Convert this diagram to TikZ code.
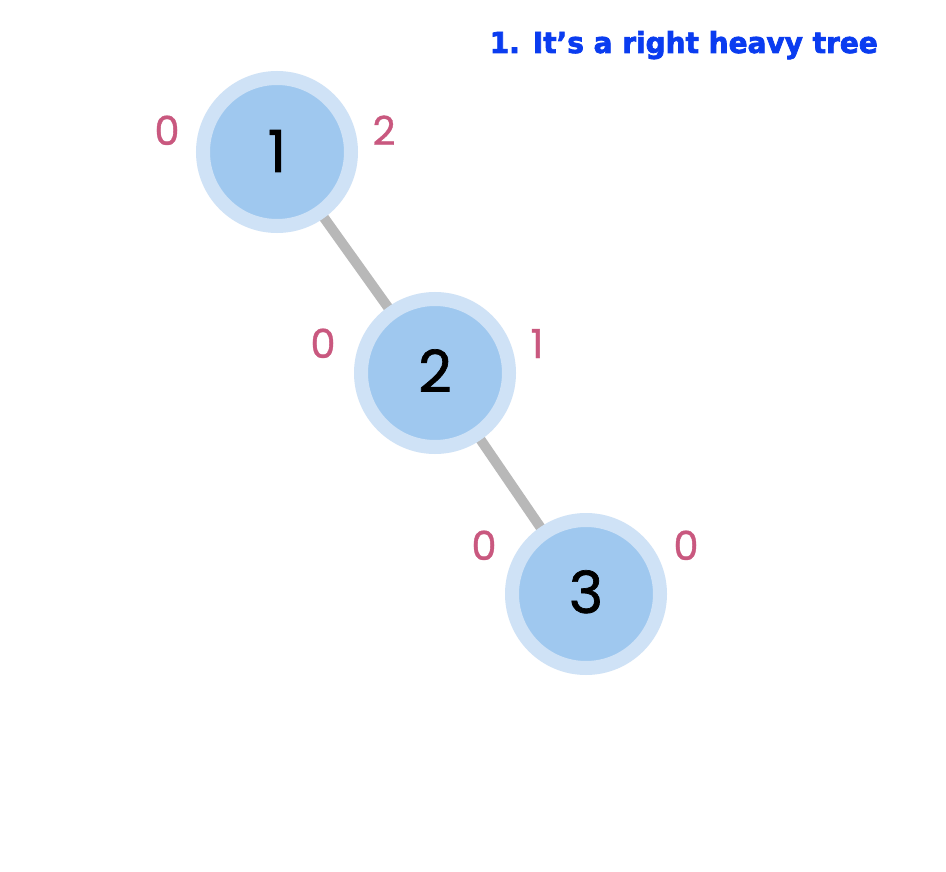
\documentclass[tikz,border=0pt]{standalone}
\usepackage{fontspec}
\setmainfont{Poppins}
\newfontfamily\titlefont{DejaVu Sans}[BoldFeatures={FakeBold=2.5}]
\newfontfamily\digitfont{Poppins}[FakeBold=1.2]
\newfontfamily\labfont{Poppins}[FakeBold=0.8]
\definecolor{ringblue}{HTML}{CFE2F6}
\definecolor{coreblue}{HTML}{9FC8EF}
\definecolor{edgegrey}{HTML}{B8B8B8}
\definecolor{labpink}{HTML}{C9587F}
\definecolor{titleblue}{HTML}{0A3CF0}
\tikzset{
  treenode/.style={circle, fill=coreblue, draw=ringblue, line width=14pt, minimum size=148pt, inner sep=0pt},
  digit/.style={anchor=base, inner sep=0pt, font=\digitfont\fontsize{58}{58}\selectfont, text=black},
  lab/.style={anchor=base, inner sep=0pt, font=\labfont\fontsize{40}{40}\selectfont, text=labpink},
  treeedge/.style={edgegrey, line width=10pt},
}
\begin{document}
\begin{tikzpicture}[x=1pt,y=-1pt]
\useasboundingbox (0,0) rectangle (946,872);
\fill[white] (0,0) rectangle (946,872);
\coordinate (c1) at (277,152);
\coordinate (c2) at (435,373);
\coordinate (c3) at (586,594);
\draw[treeedge] (c1) -- (c2);
\draw[treeedge] (c2) -- (c3);
\node[treenode] (n1) at (c1) {};
\node[treenode] (n2) at (c2) {};
\node[treenode] (n3) at (c3) {};
\node[digit] (d1) at (277,172) {1};
\node[digit] (d2) at (435,392) {2};
\node[digit] (d3) at (586,613) {3};
\node[lab] (l1a) at (167,145) {0};
\node[lab] (l1b) at (384,145) {2};
\node[lab] (l2a) at (323,358) {0};
\node[lab] (l2b) at (537,358) {1};
\node[lab] (l3a) at (484,560) {0};
\node[lab] (l3b) at (686,560) {0};
\node[anchor=base east, inner sep=0pt, text=titleblue] (title) at (878,53) {\resizebox{388pt}{22pt}{\titlefont\bfseries 1. It’s a right heavy tree}};
\end{tikzpicture}
\end{document}
